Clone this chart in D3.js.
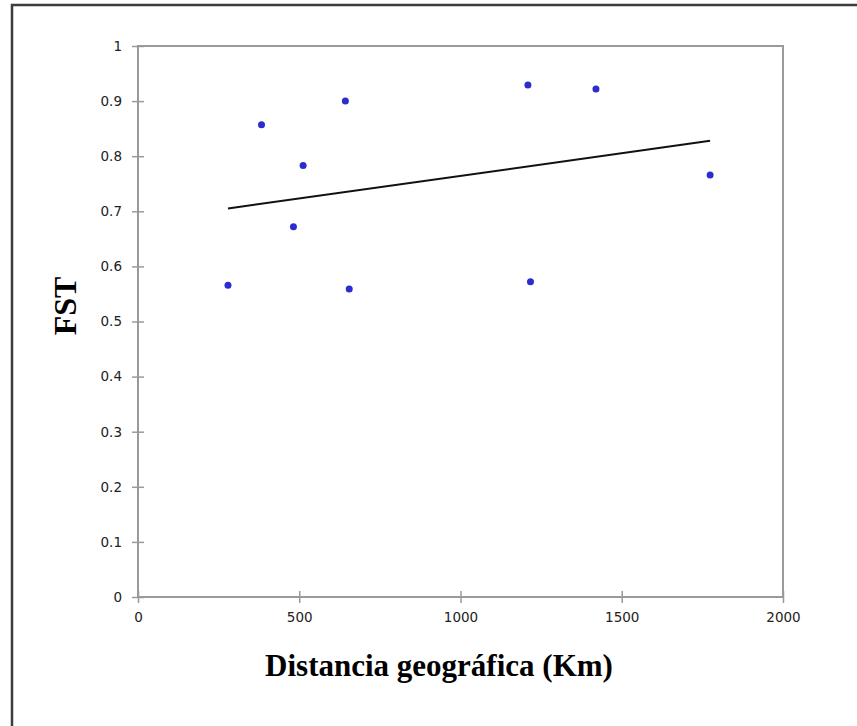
<!DOCTYPE html>
<html lang="en">
<head>
    <meta charset="UTF-8">
    <title>FST vs distancia</title>
    <script src="https://cdn.jsdelivr.net/npm/d3@7.9.0/dist/d3.min.js"></script>
    <style>
        body { margin: 0; background: #fff; }
        svg { display: block; }
        .tick text { font-family: "DejaVu Sans", sans-serif; font-size: 13.5px; fill: #222; }
        .axis-title { font-family: "Liberation Serif", "Times New Roman", serif; font-weight: bold; fill: #000; }
    </style>
</head>
<body>
<svg id="chart" width="857" height="726"></svg>
<script>
// distance (km) and FST values
let distances = [279, 383, 482, 512, 643, 655, 1209, 1217, 1420, 1774];
let fstValues = [0.566, 0.857, 0.672, 0.783, 0.900, 0.559, 0.929, 0.572, 0.922, 0.766];
let xTicks = [0, 500, 1000, 1500, 2000];
let yTicks = [0, 0.1, 0.2, 0.3, 0.4, 0.5, 0.6, 0.7, 0.8, 0.9, 1];

let svg = d3.select('#chart');
let plotLeft = 138, plotRight = 783, plotTop = 46, plotBottom = 597;

// outer frame
svg.append('rect')
    .attr('x', 12).attr('y', 5)
    .attr('width', 900).attr('height', 800)
    .attr('fill', 'none')
    .attr('stroke', '#3c3c3c')
    .attr('stroke-width', 2.5);

let x = d3.scaleLinear().domain([0, 2000]).range([plotLeft, plotRight]);
let y = d3.scaleLinear().domain([0, 1]).range([plotBottom, plotTop]);

// plot box
svg.append('rect')
    .attr('x', plotLeft).attr('y', plotTop)
    .attr('width', plotRight - plotLeft).attr('height', plotBottom - plotTop)
    .attr('fill', 'none')
    .attr('stroke', '#9a9a9a')
    .attr('stroke-width', 2);

let xAxis = svg.append('g')
    .attr('transform', `translate(0,${plotBottom})`)
    .call(d3.axisBottom(x).tickValues(xTicks).tickSize(6).tickPadding(9).tickFormat(d3.format('d')));
xAxis.select('.domain').remove();
xAxis.selectAll('.tick line').attr('stroke', '#9a9a9a').attr('stroke-width', 1.5).attr('y1', -6);

let yAxis = svg.append('g')
    .attr('transform', `translate(${plotLeft},0)`)
    .call(d3.axisLeft(y).tickValues(yTicks).tickSize(6).tickPadding(10).tickFormat(d => d3.format('~g')(d)));
yAxis.select('.domain').remove();
yAxis.selectAll('.tick line').attr('stroke', '#9a9a9a').attr('stroke-width', 1.5).attr('x1', 6);

// linear trend line (least squares)
let mx = d3.mean(distances), my = d3.mean(fstValues);
let sxy = d3.sum(distances, (d, i) => (d - mx) * (fstValues[i] - my));
let sxx = d3.sum(distances, d => (d - mx) * (d - mx));
let slope = sxy / sxx, intercept = my - slope * mx;
let xExt = d3.extent(distances);
svg.append('line')
    .attr('x1', x(xExt[0])).attr('y1', y(intercept + slope * xExt[0]))
    .attr('x2', x(xExt[1])).attr('y2', y(intercept + slope * xExt[1]))
    .attr('stroke', '#111')
    .attr('stroke-width', 2);

// points
svg.selectAll('circle.pt')
    .data(distances)
    .enter()
    .append('circle')
    .attr('class', 'pt')
    .attr('cx', d => x(d))
    .attr('cy', (d, i) => y(fstValues[i]))
    .attr('r', 3.5)
    .attr('fill', '#2c2ccf');

// axis titles
svg.append('text')
    .attr('class', 'axis-title')
    .attr('x', 439).attr('y', 676)
    .attr('text-anchor', 'middle')
    .attr('font-size', 31)
    .text('Distancia geográfica (Km)');

svg.append('text')
    .attr('class', 'axis-title')
    .attr('transform', 'translate(76,306) rotate(-90)')
    .attr('text-anchor', 'middle')
    .attr('font-size', 32)
    .text('FST');
</script>
</body>
</html>
